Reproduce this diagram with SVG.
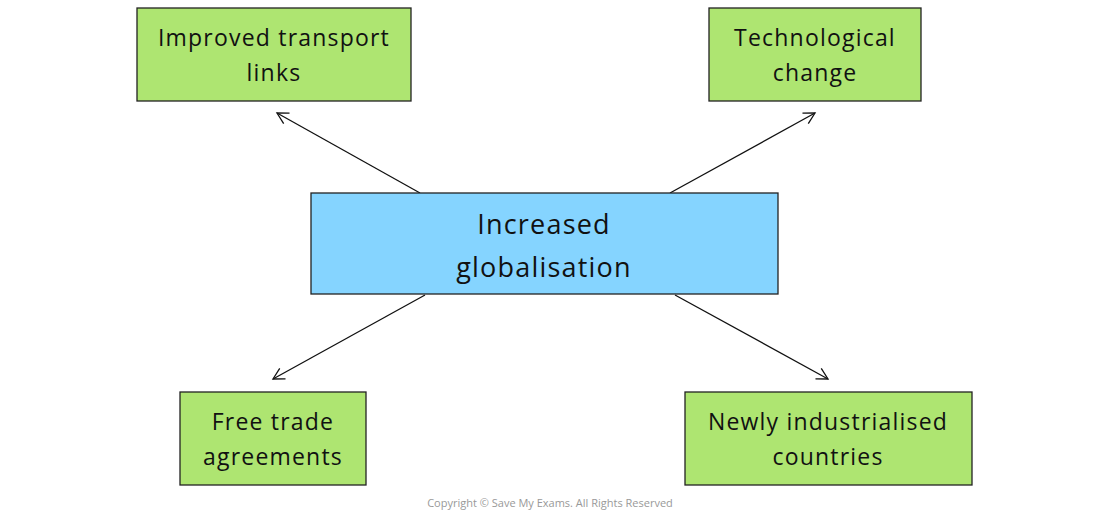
<svg xmlns="http://www.w3.org/2000/svg" width="1100" height="513" viewBox="0 0 1100 513">
<style>
.g{fill:#AEE571;stroke:#222;stroke-width:1.3}
.b{fill:#85D4FF;stroke:#222;stroke-width:1.3}
text{font-family:"Open Sans","DejaVu Sans",sans-serif;fill:#111;text-anchor:middle;letter-spacing:1.2px}
.t{font-size:23px}
.c{font-size:27px}
.cp{font-size:11px;fill:#999;letter-spacing:0}
.l{stroke:#111;stroke-width:1.3;fill:none}
</style>
<defs><marker id="a" markerWidth="14" markerHeight="14" refX="12" refY="7" orient="auto" markerUnits="userSpaceOnUse"><path d="M1,1 L12,7 L1,13" fill="none" stroke="#111" stroke-width="1.3"/></marker></defs>
<rect width="1100" height="513" fill="#fff"/>
<g id="connectors">
<line class="l" x1="420" y1="193" x2="277" y2="113" marker-end="url(#a)"/>
<line class="l" x1="670" y1="193" x2="815" y2="113" marker-end="url(#a)"/>
<line class="l" x1="425" y1="295" x2="273" y2="379" marker-end="url(#a)"/>
<line class="l" x1="675" y1="295" x2="828" y2="379" marker-end="url(#a)"/>
</g>
<g id="center"><rect class="b" x="311" y="193" width="467" height="101"/><text class="c" x="544" y="234">Increased</text><text class="c" x="544" y="277">globalisation</text></g>
<g id="transport"><rect class="g" x="137" y="8" width="274" height="93"/><text class="t" x="274" y="46">Improved transport</text><text class="t" x="274" y="81">links</text></g>
<g id="tech"><rect class="g" x="709" y="8" width="212" height="93"/><text class="t" x="815" y="46">Technological</text><text class="t" x="815" y="81">change</text></g>
<g id="trade"><rect class="g" x="180" y="392" width="186" height="93"/><text class="t" x="273" y="430">Free trade</text><text class="t" x="273" y="465">agreements</text></g>
<g id="nic"><rect class="g" x="685" y="392" width="287" height="93"/><text class="t" x="828" y="430">Newly industrialised</text><text class="t" x="828" y="465">countries</text></g>
<text class="cp" x="550" y="507">Copyright © Save My Exams. All Rights Reserved</text>
</svg>
